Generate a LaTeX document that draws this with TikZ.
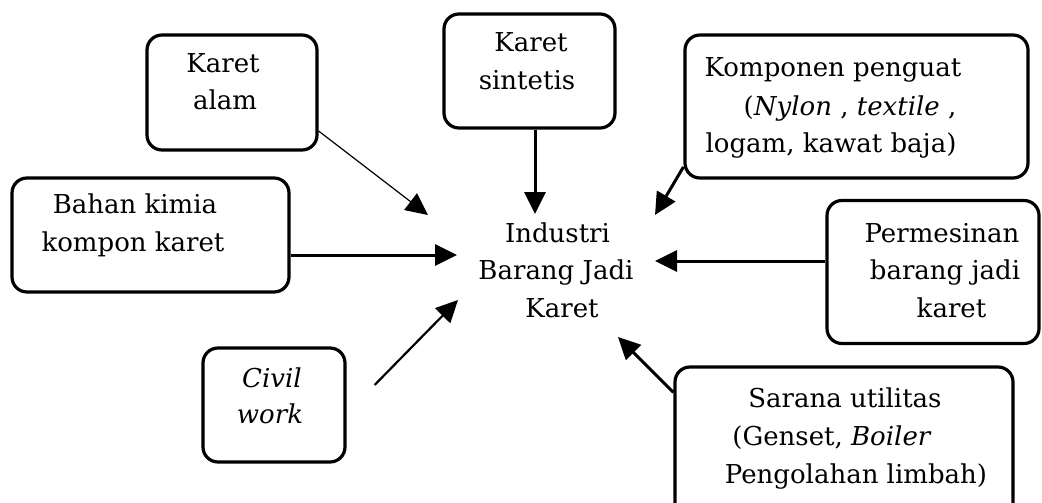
\documentclass[tikz,border=0pt]{standalone}
\usepackage{fontspec}
\setmainfont{DejaVu Serif}
\usetikzlibrary{arrows.meta}
\begin{document}
\begin{tikzpicture}[x=1pt,y=-1pt,
  box/.style={draw, line width=3.2pt, rounded corners=15pt, inner sep=0pt},
  txt/.style={anchor=base, inner sep=0pt, font=\fontsize{26}{32}\selectfont},
  arr/.style={line width=3pt, -{Triangle[length=22pt,width=21pt]}},
  thinarr/.style={line width=1.2pt, -{Triangle[length=22pt,width=21pt]}},
  midarr/.style={line width=2.2pt, -{Triangle[length=22pt,width=21pt]}}]
\useasboundingbox (0,0) rectangle (1042,503);
\clip (0,0) rectangle (1042,503);

% boxes
\node[box, minimum width=170pt, minimum height=115pt] (alam) at (232,92.5) {};
\node[box, minimum width=277pt, minimum height=114pt] (bahan) at (150.5,235) {};
\node[box, minimum width=171pt, minimum height=114pt] (sint) at (529.5,71) {};
\node[box, minimum width=343pt, minimum height=143pt] (komp) at (856.5,106.5) {};
\node[box, minimum width=212pt, minimum height=143pt] (perm) at (933,272) {};
\node[box, minimum width=338pt, minimum height=153pt] (sar) at (844,443.5) {};
\node[box, minimum width=142pt, minimum height=114pt] (civil) at (274,405) {};

% texts
\node[txt] (alam1) at (223,73) {Karet};
\node[txt] (alam2) at (225,110) {alam};
\node[txt] (bahan1) at (135,213) {Bahan kimia};
\node[txt] (bahan2) at (133,251) {kompon karet};
\node[txt] (sint1) at (531,52) {Karet};
\node[txt] (sint2) at (527,90) {sintetis};
\node[txt] (komp1) at (833,77) {Komponen penguat};
\node[txt] (komp2) at (850,115) {(\textit{Nylon} , \textit{textile} ,};
\node[txt] (komp3) at (831,152) {logam, kawat baja)};
\node[txt] (perm1) at (942,242) {Permesinan};
\node[txt] (perm2) at (945,279) {barang jadi};
\node[txt] (perm3) at (951.5,317) {karet};
\node[txt] (sar1) at (845,407) {Sarana utilitas};
\node[txt] (sar2) at (832,445) {(Genset, \textit{Boiler}};
\node[txt] (sar3) at (856,483) {Pengolahan limbah)};
\node[txt] (civil1) at (272,387) {\textit{Civil}};
\node[txt] (civil2) at (270,423) {\textit{work}};
\node[txt] (ind1) at (557.5,242) {Industri};
\node[txt] (ind2) at (556,279) {Barang Jadi};
\node[txt] (ind3) at (562,317) {Karet};

% arrow tips
\coordinate (tA) at (428,215);
\coordinate (tS) at (535,214);
\coordinate (tK) at (655,215);
\coordinate (tB) at (457,255);
\coordinate (tP) at (655,261);
\coordinate (tC) at (458,300);
\coordinate (tU) at (618,337);

% connectors
\draw[thinarr] ([yshift=-38.5pt]alam.east) -- (tA);
\draw[arr] (sint.south -| tS) -- (tS);
\draw[arr] ([yshift=-60.5pt]komp.west) -- (tK);
\draw[arr] (bahan.east |- tB) -- (tB);
\draw[arr] (perm.west |- tP) -- (tP);
\draw[midarr] ([xshift=28pt,yshift=20pt]civil.east) -- (tC);
\draw[arr] ([yshift=-27pt]sar.north west) -- (tU);
\end{tikzpicture}
\end{document}
